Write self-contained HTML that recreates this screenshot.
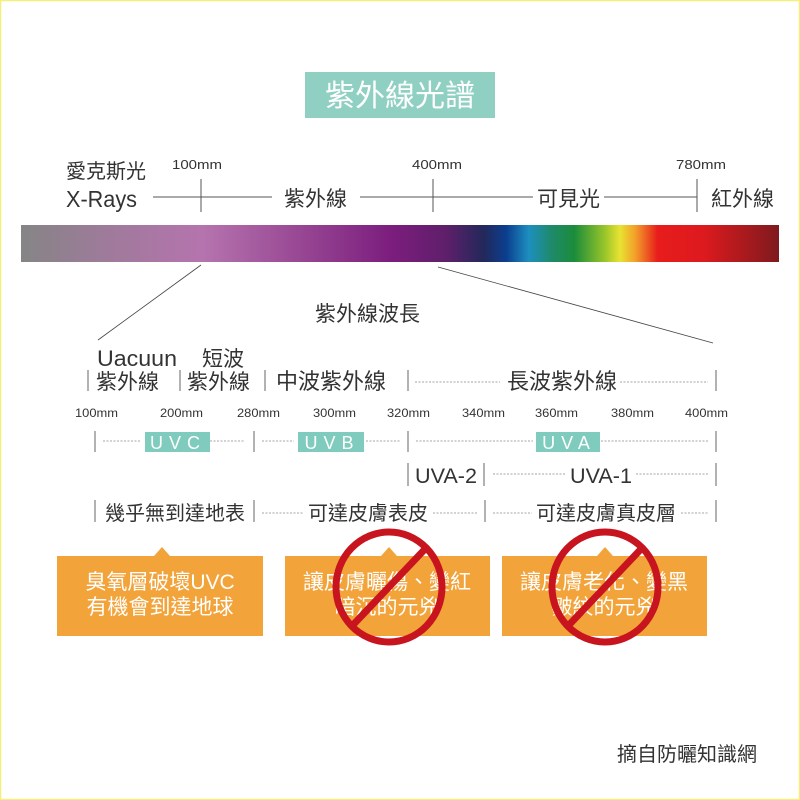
<!DOCTYPE html>
<html><head><meta charset="utf-8"><style>
html,body{margin:0;padding:0;background:#fff}
svg{display:block}
text{font-family:"Liberation Sans","Noto Sans CJK TC",sans-serif;fill:#333}
</style></head><body>
<svg width="800" height="800" viewBox="0 0 800 800">
<defs>
<linearGradient id="sp" x1="21" x2="779" gradientUnits="userSpaceOnUse">
<stop offset="0" stop-color="#858585"/>
<stop offset="0.12" stop-color="#a07a9c"/>
<stop offset="0.24" stop-color="#b574ae"/>
<stop offset="0.36" stop-color="#9a4a95"/>
<stop offset="0.49" stop-color="#7b1d7e"/>
<stop offset="0.56" stop-color="#5f1f6a"/>
<stop offset="0.61" stop-color="#23285a"/>
<stop offset="0.64" stop-color="#0b3e8e"/>
<stop offset="0.67" stop-color="#1d8fc0"/>
<stop offset="0.70" stop-color="#1f8a6a"/>
<stop offset="0.73" stop-color="#1b8c3a"/>
<stop offset="0.77" stop-color="#98c52a"/>
<stop offset="0.79" stop-color="#e8e332"/>
<stop offset="0.81" stop-color="#f3a12a"/>
<stop offset="0.84" stop-color="#e81c1c"/>
<stop offset="0.90" stop-color="#dd1a1e"/>
<stop offset="1" stop-color="#7e1a1e"/>
</linearGradient>
</defs>
<rect x="0.5" y="0.5" width="799" height="799" fill="none" stroke="#f3ef7a" stroke-width="1.5"/>
<rect x="305" y="72" width="190" height="46" fill="#8fd0c3"/>
<text x="400" y="106" text-anchor="middle" font-size="30" style="fill:#fff">紫外線光譜</text>

<text x="66" y="178" font-size="20">愛克斯光</text>
<text x="66" y="207" font-size="23" textLength="71" lengthAdjust="spacingAndGlyphs">X-Rays</text>
<text x="172" y="169" font-size="13" textLength="50" lengthAdjust="spacingAndGlyphs">100mm</text>
<text x="412" y="169" font-size="13" textLength="50" lengthAdjust="spacingAndGlyphs">400mm</text>
<text x="676" y="169" font-size="13" textLength="50" lengthAdjust="spacingAndGlyphs">780mm</text>
<g stroke="#555" stroke-width="1">
<line x1="153" y1="197" x2="272" y2="197"/><line x1="201" y1="179" x2="201" y2="212"/>
<line x1="360" y1="197" x2="533" y2="197"/><line x1="433" y1="179" x2="433" y2="212"/>
<line x1="604" y1="197" x2="697" y2="197"/><line x1="697" y1="179" x2="697" y2="212"/>
</g>
<text x="284" y="206" font-size="21">紫外線</text>
<text x="537" y="206" font-size="21">可見光</text>
<text x="711" y="206" font-size="21">紅外線</text>
<rect x="21" y="225" width="758" height="37" fill="url(#sp)"/>
<g stroke="#444" stroke-width="0.8">
<line x1="201" y1="265" x2="98" y2="340"/>
<line x1="438" y1="267" x2="713" y2="343"/>
</g>
<text x="315" y="321" font-size="21">紫外線波長</text>

<text x="97" y="366" font-size="22" textLength="80" lengthAdjust="spacingAndGlyphs">Uacuun</text>
<text x="202" y="366" font-size="21">短波</text>
<g stroke="#666" stroke-width="1">
<line x1="88" y1="370" x2="88" y2="391"/><line x1="180" y1="370" x2="180" y2="391"/>
<line x1="265" y1="370" x2="265" y2="391"/><line x1="408" y1="370" x2="408" y2="391"/>
<line x1="716" y1="370" x2="716" y2="391"/>
<line x1="95" y1="431" x2="95" y2="452"/><line x1="254" y1="431" x2="254" y2="452"/>
<line x1="408" y1="431" x2="408" y2="452"/><line x1="716" y1="431" x2="716" y2="452"/>
<line x1="408" y1="463" x2="408" y2="486"/><line x1="484" y1="463" x2="484" y2="486"/>
<line x1="716" y1="463" x2="716" y2="486"/>
<line x1="95" y1="500" x2="95" y2="522"/><line x1="254" y1="500" x2="254" y2="522"/>
<line x1="485" y1="500" x2="485" y2="522"/><line x1="716" y1="500" x2="716" y2="522"/>
</g>
<text x="96" y="389" font-size="21">紫外線</text>
<text x="187" y="389" font-size="21">紫外線</text>
<text x="276" y="389" font-size="22">中波紫外線</text>
<text x="507" y="389" font-size="22">長波紫外線</text>
<g stroke="#888" stroke-width="0.8" stroke-dasharray="2,1.5" fill="none">
<line x1="415" y1="382" x2="500" y2="382"/><line x1="620" y1="382" x2="708" y2="382"/>
<line x1="103" y1="441" x2="140" y2="441"/><line x1="210" y1="441" x2="245" y2="441"/>
<line x1="262" y1="441" x2="294" y2="441"/><line x1="366" y1="441" x2="400" y2="441"/>
<line x1="416" y1="441" x2="533" y2="441"/><line x1="601" y1="441" x2="708" y2="441"/>
<line x1="493" y1="474" x2="566" y2="474"/><line x1="636" y1="474" x2="708" y2="474"/>
<line x1="262" y1="513" x2="304" y2="513"/><line x1="433" y1="513" x2="477" y2="513"/>
<line x1="493" y1="513" x2="532" y2="513"/><line x1="681" y1="513" x2="708" y2="513"/>
</g>
<g font-size="12">
<text x="75" y="417" textLength="43" lengthAdjust="spacingAndGlyphs">100mm</text><text x="160" y="417" textLength="43" lengthAdjust="spacingAndGlyphs">200mm</text><text x="237" y="417" textLength="43" lengthAdjust="spacingAndGlyphs">280mm</text>
<text x="313" y="417" textLength="43" lengthAdjust="spacingAndGlyphs">300mm</text><text x="387" y="417" textLength="43" lengthAdjust="spacingAndGlyphs">320mm</text><text x="462" y="417" textLength="43" lengthAdjust="spacingAndGlyphs">340mm</text>
<text x="535" y="417" textLength="43" lengthAdjust="spacingAndGlyphs">360mm</text><text x="611" y="417" textLength="43" lengthAdjust="spacingAndGlyphs">380mm</text><text x="685" y="417" textLength="43" lengthAdjust="spacingAndGlyphs">400mm</text>
</g>
<rect x="145" y="432" width="65" height="20" fill="#7fcbbd"/>
<rect x="298" y="432" width="66" height="20" fill="#7fcbbd"/>
<rect x="536" y="432" width="64" height="20" fill="#7fcbbd"/>
<text x="178" y="449" text-anchor="middle" font-size="18" letter-spacing="6" style="fill:#fff">UVC</text>
<text x="332" y="449" text-anchor="middle" font-size="18" letter-spacing="6" style="fill:#fff">UVB</text>
<text x="569" y="449" text-anchor="middle" font-size="18" letter-spacing="6" style="fill:#fff">UVA</text>
<text x="415" y="483" font-size="21" textLength="62" lengthAdjust="spacingAndGlyphs">UVA-2</text>
<text x="570" y="483" font-size="21" textLength="62" lengthAdjust="spacingAndGlyphs">UVA-1</text>
<text x="105" y="520" font-size="20">幾乎無到達地表</text>
<text x="308" y="520" font-size="20">可達皮膚表皮</text>
<text x="536" y="520" font-size="20">可達皮膚真皮層</text>

<g fill="#f2a33a">
<rect x="57" y="556" width="206" height="80"/><polygon points="154,556 162,547 170,556"/>
<rect x="285" y="556" width="205" height="80"/><polygon points="381,556 389,547 397,556"/>
<rect x="502" y="556" width="205" height="80"/><polygon points="597,556 605,547 613,556"/>
</g>
<g font-size="21" text-anchor="middle">
<text x="160" y="589" style="fill:#fff">臭氧層破壞UVC</text>
<text x="160" y="614" style="fill:#fff">有機會到達地球</text>
<text x="387" y="589" style="fill:#fff">讓皮膚曬傷、變紅</text>
<text x="387" y="614" style="fill:#fff">暗沉的元兇</text>
<text x="604" y="589" style="fill:#fff">讓皮膚老化、變黑</text>
<text x="604" y="614" style="fill:#fff">皺紋的元兇</text>
</g>
<g fill="none" stroke="#c8141e" stroke-width="7">
<ellipse cx="389" cy="587" rx="53" ry="55"/>
<line x1="426" y1="548" x2="352" y2="626"/>
<ellipse cx="605" cy="587" rx="53" ry="55"/>
<line x1="642" y1="548" x2="568" y2="626"/>
</g>
<text x="617" y="761" font-size="20">摘自防曬知識網</text>
</svg>
</body></html>
